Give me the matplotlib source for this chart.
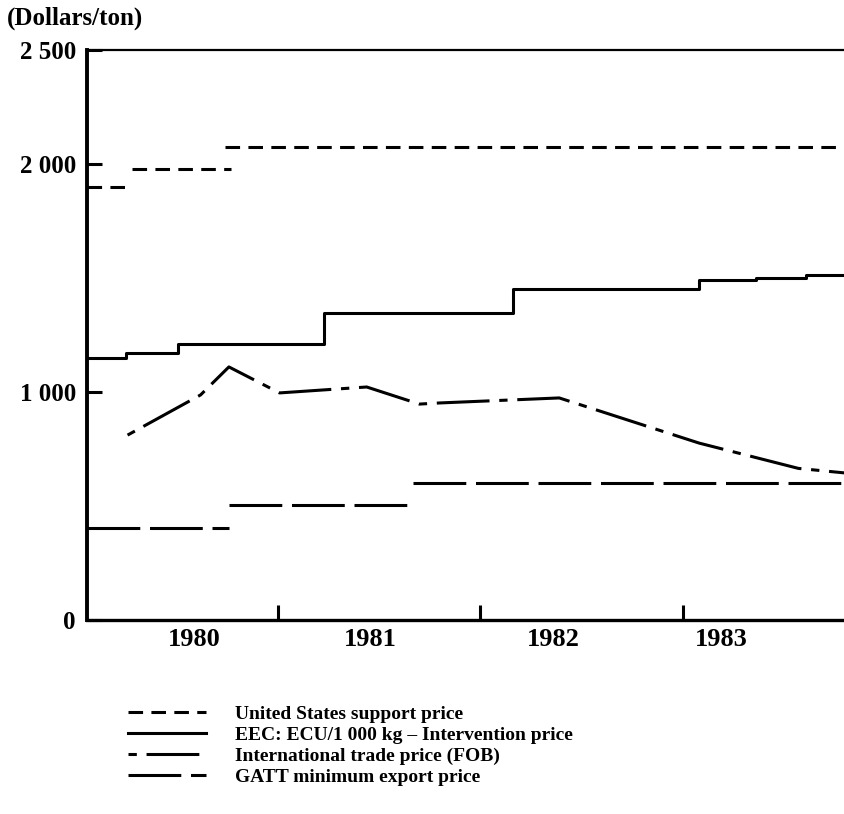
import matplotlib.pyplot as plt

plt.rcParams['font.family'] = ['Liberation Serif', 'DejaVu Serif']
plt.rcParams['lines.scale_dashes'] = False

# x values are decimal years
us_start = [1980.00, 1980.22, 1980.68]
us_end = [1980.22, 1980.71, 1983.74]
us_price = [1900, 1980, 2075]

eec_x = [1980.00, 1980.19, 1980.45, 1981.17, 1982.10, 1983.02, 1983.30, 1983.55, 1983.74]
eec_price = [1150, 1170, 1210, 1345, 1450, 1490, 1500, 1515, 1515]

trade_x = [1980.20, 1980.56, 1980.70, 1980.95, 1981.38, 1981.64, 1981.74, 1982.33,
           1983.02, 1983.51, 1983.74]
trade_price = [811, 987, 1110, 996, 1022, 947, 952, 974, 776, 665, 645]

gatt_start = [1980.00, 1980.70, 1981.61]
gatt_end = [1980.70, 1981.61, 1983.74]
gatt_price = [405, 505, 603]

year_ticks = [1980.94, 1981.94, 1982.94]
year_label_pos = [1980.53, 1981.40, 1982.30, 1983.13]
year_labels = ['1980', '1981', '1982', '1983']
y_ticks = [0, 1000, 2000, 2500]
y_labels = ['0', '1 000', '2 000', '2 500']

labels = ['United States support price',
          'EEC: ECU/1 000 kg \u2013 Intervention price',
          'International trade price (FOB)',
          'GATT minimum export price']

fig = plt.figure(figsize=(8.45, 8.14), dpi=100)
ax = fig.add_axes([0.103, 0.2383, 0.897, 0.7003])

lw = 2.2
for i in range(len(us_price)):
    ax.plot([us_start[i], us_end[i]], [us_price[i], us_price[i]], color='black', lw=lw,
            dashes=(10.5, 6), label=labels[0] if i == 0 else None)

ax.step(eec_x, eec_price, where='post', color='black', lw=lw, label=labels[1])

ax.plot(trade_x, trade_price, color='black', lw=lw, dashes=(6, 7, 38, 7),
        label=labels[2])

for i in range(len(gatt_price)):
    ax.plot([gatt_start[i], gatt_end[i]], [gatt_price[i], gatt_price[i]], color='black',
            lw=lw, dashes=(38, 7), label=labels[3] if i == 0 else None)

ax.set_xlim(1980.0, 1983.74)
ax.set_ylim(0, 2500)

ax.spines['right'].set_visible(False)
ax.spines['left'].set_linewidth(2.8)
ax.spines['bottom'].set_linewidth(2.4)
ax.spines['top'].set_linewidth(1.6)

ax.set_yticks(y_ticks)
ax.set_yticklabels(y_labels, fontsize=18, fontweight='bold')
ax.tick_params(axis='y', direction='in', length=11, width=2.2, pad=8)

ax.set_xticks(year_ticks)
ax.set_xticklabels([])
ax.tick_params(axis='x', which='major', direction='in', length=11, width=2.2)
ax.set_xticks(year_label_pos, minor=True)
ax.set_xticklabels(year_labels, minor=True, fontsize=19, fontweight='bold')
ax.tick_params(axis='x', which='minor', length=0, pad=6)

fig.text(0.008, 0.978, '(Dollars/ton)', fontsize=18, fontweight='bold', va='center')

fig.legend(loc='upper left', bbox_to_anchor=(0.14, 0.1455), frameon=False,
           prop={'weight': 'bold', 'size': 14}, handlelength=4.0,
           handletextpad=1.5, labelspacing=0.17, borderpad=0)

fig.savefig('out.png', dpi=100)
